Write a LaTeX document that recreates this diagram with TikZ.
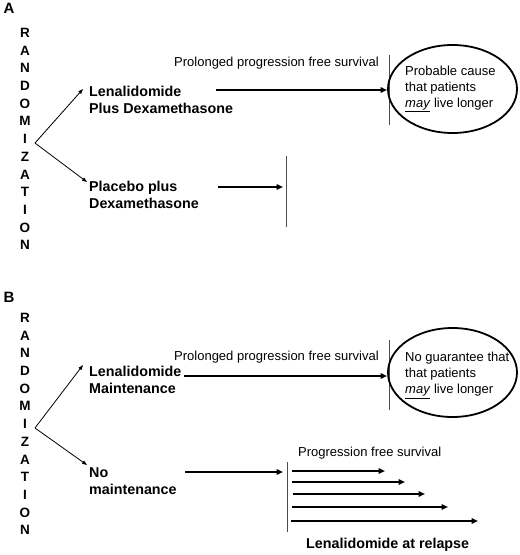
\documentclass[tikz,border=0pt]{standalone}
\usepackage{fontspec}
\setmainfont{Liberation Sans}
\usetikzlibrary{arrows.meta,shapes.geometric}
\tikzset{
  panel/.style={font=\fontsize{15}{17}\selectfont\bfseries, inner sep=0pt},
  randtext/.style={font=\fontsize{13.5}{17.7}\selectfont\bfseries, align=center, inner sep=0pt},
  armtext/.style={font=\fontsize{14.3}{17}\selectfont\bfseries, align=left, anchor=west, inner sep=0pt},
  plaintext/.style={font=\fontsize{13}{16}\selectfont, align=left, inner sep=0pt},
  thin arrow/.style={line width=0.8pt, -{Triangle[length=5pt,width=3.5pt]}},
  thick arrow/.style={line width=1.8pt, -{Triangle[length=6.5pt,width=5.5pt]}},
  barline/.style={line width=0.8pt, draw=black!70},
  oval/.style={ellipse, draw, line width=1.8pt, minimum width=129pt, minimum height=88pt, inner sep=0pt},
}
\begin{document}
\begin{tikzpicture}[x=1pt,y=-1pt]
\useasboundingbox (0,0) rectangle (520,555);

% ---------------- Panel A ----------------
\node[panel] (labA) at (9,8) {A};
\node[randtext] (randA) at (25,139) {R\\A\\N\\D\\O\\M\\I\\Z\\A\\T\\I\\O\\N};
\coordinate (forkA) at (35,143);
\node[armtext] (lenA) at (89,99.5) {Lenalidomide\\Plus Dexamethasone};
\node[armtext] (plaA) at (89,195) {Placebo plus\\Dexamethasone};
\draw[thin arrow] (forkA) -- (83,89) coordinate (lenAtip);
\draw[thin arrow] (forkA) -- (87,182) coordinate (plaAtip);

\coordinate (lenAstart) at (216,90);
\coordinate (lenAend) at (387,90);
\draw[thick arrow] (lenAstart) -- (lenAend);
\coordinate (barAtop) at (389,55);
\coordinate (barAbot) at (389,125);
\draw[barline] (barAtop) -- (barAbot);
\node[plaintext, anchor=west] (pfsA) at (174,63) {Prolonged progression free survival};
\node[oval] (ovalA) at (452.5,89) {};
\node[plaintext, anchor=west] (ovalAtext) at (405,89) {Probable cause\\that patients\\\underline{\textit{may}} live longer};

\coordinate (plaAstart) at (218,187);
\coordinate (plaAend) at (283,187);
\draw[thick arrow] (plaAstart) -- (plaAend);
\coordinate (barA2top) at (286,156);
\coordinate (barA2bot) at (286,227);
\draw[barline] (barA2top) -- (barA2bot);

% ---------------- Panel B ----------------
\node[panel] (labB) at (9,297) {B};
\node[randtext] (randB) at (25,424) {R\\A\\N\\D\\O\\M\\I\\Z\\A\\T\\I\\O\\N};
\coordinate (forkB) at (35,428);
\node[armtext] (lenB) at (89,379.5) {Lenalidomide\\Maintenance};
\node[armtext] (noB) at (89,481.5) {No\\maintenance};
\draw[thin arrow] (forkB) -- (83,365) coordinate (lenBtip);
\draw[thin arrow] (forkB) -- (87,465) coordinate (noBtip);

\coordinate (lenBstart) at (184,376);
\coordinate (lenBend) at (387,376);
\draw[thick arrow] (lenBstart) -- (lenBend);
\coordinate (barBtop) at (389,340);
\coordinate (barBbot) at (389,410);
\draw[barline] (barBtop) -- (barBbot);
\node[plaintext, anchor=west] (pfsB) at (174,357) {Prolonged progression free survival};
\node[oval, minimum height=89pt] (ovalB) at (452.5,372.5) {};
\node[plaintext, anchor=west] (ovalBtext) at (405,375.5) {No guarantee that\\that patients\\\underline{\textit{may}} live longer};

\coordinate (noBstart) at (185,472);
\coordinate (noBend) at (283,472);
\draw[thick arrow] (noBstart) -- (noBend);
\coordinate (barB2top) at (287,462);
\coordinate (barB2bot) at (287,532);
\draw[barline] (barB2top) -- (barB2bot);
\node[plaintext, anchor=west] (pfsB2) at (298,453) {Progression free survival};

\coordinate (r1s) at (292,471); \coordinate (r1e) at (385,471);
\coordinate (r2s) at (292,482); \coordinate (r2e) at (405,482);
\coordinate (r3s) at (293,494); \coordinate (r3e) at (425,494);
\coordinate (r4s) at (292,507); \coordinate (r4e) at (448,507);
\coordinate (r5s) at (291,521); \coordinate (r5e) at (478,521);
\foreach \i in {1,...,5} {
  \draw[thick arrow] (r\i s) -- (r\i e);
}
\node[armtext] (relapse) at (306,545) {Lenalidomide at relapse};
\end{tikzpicture}
\end{document}
